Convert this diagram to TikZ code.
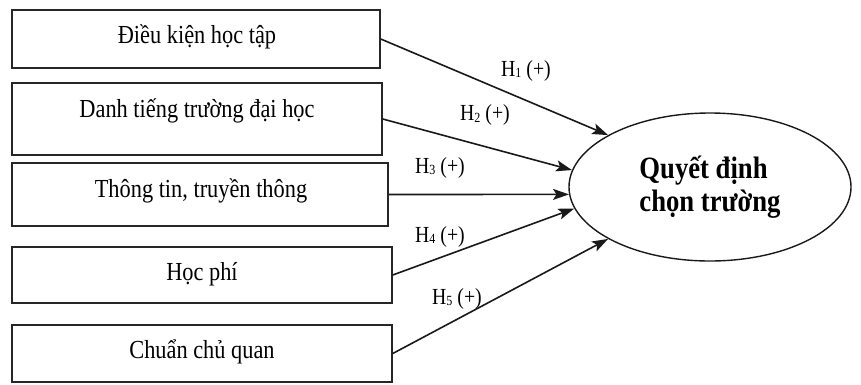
\documentclass[tikz,border=0pt]{standalone}
\usepackage{fontspec}
\setmainfont{Liberation Serif}[FakeStretch=0.86]
\usetikzlibrary{arrows.meta,shapes.geometric}
\newcommand{\hsub}[1]{H\raisebox{-1.5pt}{\fontsize{14}{14}\selectfont #1}}
\tikzset{
  srcbox/.style={draw=black!85, line width=1.5pt, rectangle, inner sep=0pt},
  boxtxt/.style={anchor=base, inner sep=0pt, font=\fontsize{26}{30}\selectfont},
  hlbl/.style={anchor=base west, inner sep=0pt, font=\fontsize{23}{26}\selectfont},
  conn/.style={draw=black!90, line width=1.6pt, -{Stealth[length=16pt,width=11pt,inset=3.5pt]}},
  goal/.style={draw=black!90, line width=1.4pt, ellipse, inner sep=0pt,
    minimum width=282pt, minimum height=148pt, align=left,
    font=\fontsize{31}{33}\selectfont\bfseries}
}
\begin{document}
\begin{tikzpicture}[x=1pt,y=-1pt]
\useasboundingbox (0,0) rectangle (861,384);
% source boxes
\node[srcbox, minimum width=368pt, minimum height=58pt] (b1) at (196,39) {};
\node[srcbox, minimum width=370pt, minimum height=72pt] (b2) at (197,119) {};
\node[srcbox, minimum width=376pt, minimum height=63pt] (b3) at (200,194.5) {};
\node[srcbox, minimum width=380pt, minimum height=56pt] (b4) at (202,275) {};
\node[srcbox, minimum width=380pt, minimum height=57pt] (b5) at (202,353.5) {};
\node[boxtxt] (t1) at (197,43) {Điều kiện học tập};
\node[boxtxt] (t2) at (197,117) {Danh tiếng trường đại học};
\node[boxtxt] (t3) at (201,197) {Thông tin, truyền thông};
\node[boxtxt] (t4) at (202,280) {Học phí};
\node[boxtxt] (t5) at (202,358) {Chuẩn chủ quan};
% goal ellipse
\node[goal] (q) at (710,187) {\raisebox{-3pt}{Quyết định}\\\raisebox{-3pt}{chọn trường}};
% connectors
\draw[conn] (b1.east) -- (q.153);
\draw[conn] (b2.east) -- (q.173.7);
\draw[conn] (b3.east) -- (q.183.8);
\draw[conn] (b4.east) -- (q.189.4);
\draw[conn] (b5.east) -- (q.207.5);
% labels
\node[hlbl] (h1) at (501,76) {\hsub{1} (+)};
\node[hlbl] (h2) at (460,120.7) {\hsub{2} (+)};
\node[hlbl] (h3) at (415,173) {\hsub{3} (+)};
\node[hlbl] (h4) at (415,242) {\hsub{4} (+)};
\node[hlbl] (h5) at (432,304) {\hsub{5} (+)};
\end{tikzpicture}
\end{document}
